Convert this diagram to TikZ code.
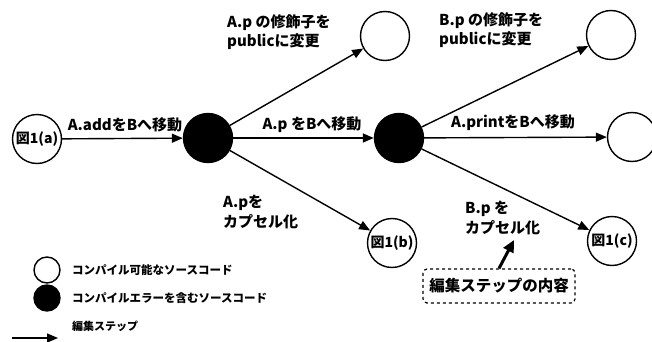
\documentclass[tikz,border=0pt]{standalone}
\usepackage{fontspec}
\setmainfont{Noto Sans CJK JP}
\usetikzlibrary{arrows.meta}
\tikzset{
  state/.style={circle, draw, line width=1.4pt, minimum size=49pt, inner sep=0pt, font=\bfseries\fontsize{14}{15}\selectfont},
  errstate/.style={state, fill=black},
  legcircle/.style={circle, draw, line width=1.4pt, minimum size=26pt, inner sep=0pt},
  edge/.style={line width=1.4pt, -{Triangle[length=11pt,width=9pt]}},
  lbl/.style={font=\bfseries\fontsize{15}{19.5}\selectfont, inner sep=0pt, align=left},
  legtext/.style={font=\bfseries\fontsize{11.5}{13}\selectfont, anchor=west, inner sep=0pt},
}
\begin{document}
\begin{tikzpicture}[x=1pt,y=-1pt]
\useasboundingbox (0,0) rectangle (652,342);
% states
\node[state] (a) at (37,139) {図1(a)};
\node[errstate] (e1) at (208,138) {};
\node[state] (t1) at (385,36) {};
\node[errstate] (e2) at (399,138) {};
\node[state] (t2) at (611,35) {};
\node[state] (r2) at (632,137) {};
\node[state] (b) at (392,243) {図1(b)};
\node[state] (c) at (612,241) {図1(c)};
% edges
\draw[edge] (a) -- (e1);
\draw[edge] (e1) -- (t1);
\draw[edge] (e1) -- (e2);
\draw[edge] (e1) -- (b);
\draw[edge] (e2) -- (t2);
\draw[edge] (e2) -- (r2);
\draw[edge] (e2) -- (c);
% edge labels
\node[lbl] (l1) at (125,125) {A.addをBへ移動};
\node[lbl] (l2) at (312,125) {A.p をBへ移動};
\node[lbl] (l3) at (513,123) {A.printをBへ移動};
\node[lbl, anchor=west] (l4) at (227,32) {A.p の修飾子を\\publicに変更};
\node[lbl, anchor=west] (l5) at (439,30) {B.p の修飾子を\\publicに変更};
\node[lbl, anchor=west] (l6) at (223,212) {A.pを\\カプセル化};
\node[lbl, anchor=west] (l7) at (465,218) {B.p を\\カプセル化};
% annotation
\node[draw, dashed, rounded corners=4pt, line width=1.2pt, minimum width=152pt, minimum height=34pt, inner sep=0pt, font=\bfseries\fontsize{15.5}{16}\selectfont] (box) at (499,286) {編集ステップの内容};
\coordinate (tip) at (514,240);
\draw[line width=3pt, -{Triangle[length=12pt,width=11pt]}] (box.north) -- (tip);
% legend
\node[legcircle] (lc1) at (47,270) {};
\node[legcircle, fill=black] (lc2) at (47,298) {};
\node[legtext] (lt1) at (72,270) {コンパイル可能なソースコード};
\node[legtext] (lt2) at (72,298) {コンパイルエラーを含むソースコード};
\node[legtext, font=\bfseries\fontsize{11}{12}\selectfont] (lt3) at (72,326) {編集ステップ};
\coordinate (ls) at (12,338);
\coordinate (le) at (58,338);
\draw[edge] (ls) -- (le);
\end{tikzpicture}
\end{document}
